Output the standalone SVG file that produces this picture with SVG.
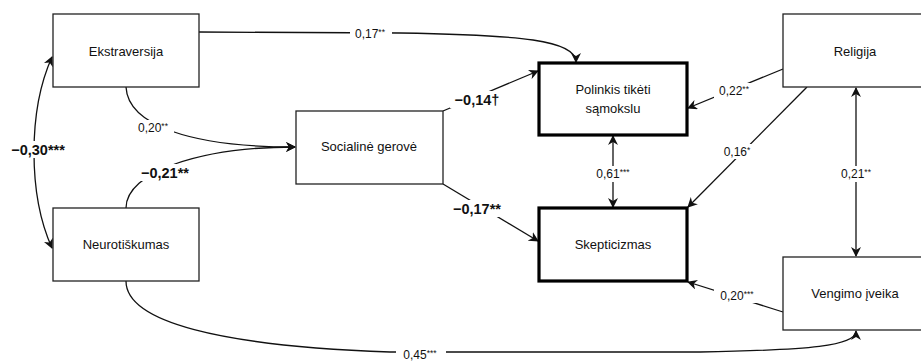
<svg xmlns="http://www.w3.org/2000/svg" width="921" height="362" viewBox="0 0 921 362">
<style>
.box{fill:#fff;stroke:#222;stroke-width:1.3}
.thick{fill:#fff;stroke:#000;stroke-width:3.2}
.nt{font-family:"Liberation Sans",Arial,sans-serif;font-size:13px;fill:#111;text-anchor:middle}
.ln{fill:none;stroke:#111;stroke-width:1.3}
.lb{fill:#fff}
.el{font-family:"Liberation Sans",Arial,sans-serif;font-size:12px;fill:#111;text-anchor:middle}
.eb{font-family:"Liberation Sans",Arial,sans-serif;font-size:14.5px;font-weight:bold;fill:#111;text-anchor:middle}
.sup{font-size:8.5px}
</style>
<defs>
<marker id="ah" viewBox="0 0 10 10" refX="9" refY="5" markerWidth="10" markerHeight="10" markerUnits="userSpaceOnUse" orient="auto-start-reverse">
<path d="M0,0 L10,5 L0,10 L3,5 z" fill="#111"/>
</marker>
</defs>
<rect width="921" height="362" fill="#fff"/>
<g id="connectors">
<path class="ln" d="M199,32 L400,33 C520,35 576,40 576,62" marker-end="url(#ah)"/>
<path class="ln" d="M126,87 C128,125 190,147 295,147" marker-end="url(#ah)"/>
<path class="ln" d="M126,208 C126,172 200,147 295,147" marker-end="url(#ah)"/>
<path class="ln" d="M52,57 C28,110 28,195 52,248" marker-start="url(#ah)" marker-end="url(#ah)"/>
<path class="ln" d="M443,111 L538,71" marker-end="url(#ah)"/>
<path class="ln" d="M443,184 L538,241" marker-end="url(#ah)"/>
<path class="ln" d="M783,69 L688,108" marker-end="url(#ah)"/>
<path class="ln" d="M807,87 L688,207" marker-end="url(#ah)"/>
<path class="ln" d="M783,312 L688,282" marker-end="url(#ah)"/>
<path class="ln" d="M613,136 L613,207" marker-start="url(#ah)" marker-end="url(#ah)"/>
<path class="ln" d="M856,88 L856,256" marker-start="url(#ah)" marker-end="url(#ah)"/>
<path class="ln" d="M126,281 C126,322 220,346 390,352 L700,352 C810,350 856,346 856,331" marker-end="url(#ah)"/>
<rect class="lb" x="350" y="26" width="42" height="14"/>
<rect class="lb" x="132" y="120" width="42" height="15"/>
<rect class="lb" x="132" y="164" width="66" height="17"/>
<rect class="lb" x="5" y="141" width="67" height="17"/>
<rect class="lb" x="450" y="91" width="56" height="17"/>
<rect class="lb" x="444" y="200" width="66" height="17"/>
<rect class="lb" x="714" y="83" width="40" height="15"/>
<rect class="lb" x="720" y="144" width="34" height="15"/>
<rect class="lb" x="591" y="166" width="45" height="16"/>
<rect class="lb" x="836" y="166" width="40" height="16"/>
<rect class="lb" x="714" y="288" width="47" height="15"/>
<rect class="lb" x="396" y="346" width="50" height="16"/>
<text class="el" x="370" y="38">0,17<tspan class="sup" dy="-3">**</tspan></text>
<text class="el" x="153" y="132">0,20<tspan class="sup" dy="-3">**</tspan></text>
<text class="eb" x="165" y="178">−0,21**</text>
<text class="eb" x="38" y="155">−0,30***</text>
<text class="eb" x="477" y="105">−0,14†</text>
<text class="eb" x="477" y="214">−0,17**</text>
<text class="el" x="734" y="95">0,22<tspan class="sup" dy="-3">**</tspan></text>
<text class="el" x="737" y="156">0,16<tspan class="sup" dy="-3">*</tspan></text>
<text class="el" x="613" y="178">0,61<tspan class="sup" dy="-3">***</tspan></text>
<text class="el" x="856" y="178">0,21<tspan class="sup" dy="-3">**</tspan></text>
<text class="el" x="737" y="300">0,20<tspan class="sup" dy="-3">***</tspan></text>
<text class="el" x="420" y="359">0,45<tspan class="sup" dy="-3">***</tspan></text>
</g>
<g id="ekstraversija"><rect class="box" x="53" y="14" width="146" height="73"/><text class="nt" x="126" y="56">Ekstraversija</text></g>
<g id="neurotiskumas"><rect class="box" x="53" y="208" width="146" height="73"/><text class="nt" x="126" y="249">Neurotiškumas</text></g>
<g id="socialine"><rect class="box" x="296" y="111" width="147" height="73"/><text class="nt" x="369" y="151">Socialinė gerovė</text></g>
<g id="polinkis"><rect class="thick" x="539" y="63" width="148" height="72"/><text class="nt" x="613" y="94">Polinkis tikėti</text><text class="nt" x="613" y="113">sąmokslu</text></g>
<g id="skepticizmas"><rect class="thick" x="539" y="208" width="148" height="73"/><text class="nt" x="613" y="249">Skepticizmas</text></g>
<g id="religija"><rect class="box" x="783" y="14" width="146" height="73"/><text class="nt" x="855" y="56">Religija</text></g>
<g id="vengimo"><rect class="box" x="783" y="257" width="146" height="73"/><text class="nt" x="855" y="298">Vengimo įveika</text></g>
</svg>
